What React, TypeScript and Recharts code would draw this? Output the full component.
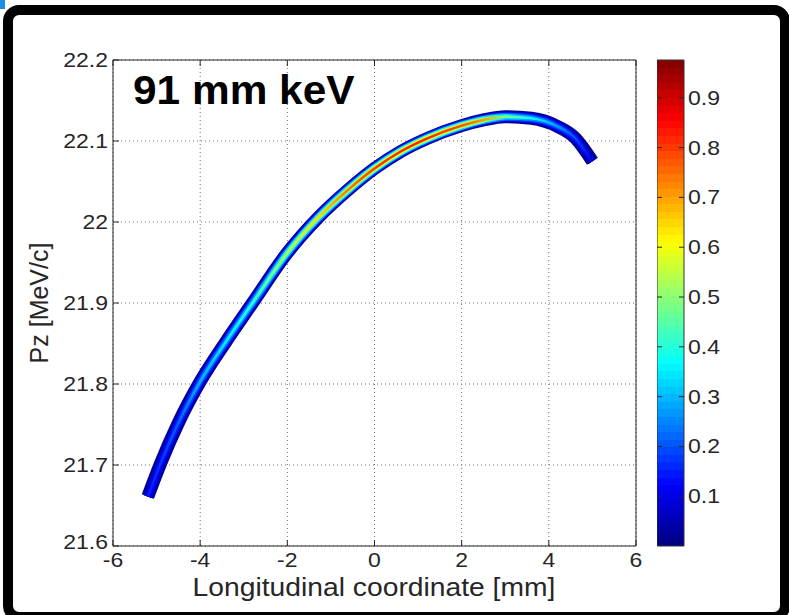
import { ComposedChart, BarChart, Bar, Line, XAxis, YAxis, CartesianGrid } from 'recharts'

// centre of the phase-space trace
const posX = [-5.2, -4.9, -4.5, -4.0, -3.4, -2.8, -2.0, -1.3, -0.6, 0.0, 0.6, 1.2, 2.0, 2.5, 3.0, 3.6, 4.2, 4.6, 5.0]
const pz = [21.661, 21.703, 21.752, 21.803, 21.853, 21.9, 21.962, 22.005, 22.04, 22.066, 22.087, 22.103, 22.119, 22.126, 22.13, 22.128, 22.118, 22.104, 22.075]
// peak density along the trace (colour of the core)
const peak = [0.15, 0.18, 0.22, 0.3, 0.36, 0.42, 0.56, 0.66, 0.76, 0.82, 0.84, 0.84, 0.8, 0.72, 0.5, 0.38, 0.28, 0.2, 0.1]

const xTicks = [-6, -4, -2, 0, 2, 4, 6]
const yTicks = [21.6, 21.7, 21.8, 21.9, 22, 22.1, 22.2]
const cbarTicks = [0.1, 0.2, 0.3, 0.4, 0.5, 0.6, 0.7, 0.8, 0.9]
const cbarMax = 0.976

const data = posX.map((x, i) => ({ x, pz: pz[i] }))
const cbarData = [{ name: 'density', top: cbarMax }]

const FONT = '"Liberation Sans", Arial, Helvetica, sans-serif'
const INK = '#262626'

// outer halo first, hot core last
const layers = [
  { width: 13, scale: 0 },
  { width: 10.5, scale: 0.2 },
  { width: 8, scale: 0.45 },
  { width: 5.5, scale: 0.7 },
  { width: 2.5, scale: 1 },
]

function jet(v: number) {
  const c = (t: number) => Math.round(255 * Math.min(1, Math.max(0, t)))
  const r = c(1.5 - Math.abs(4 * v - 3))
  const g = c(1.5 - Math.abs(4 * v - 2))
  const b = c(1.5 - Math.abs(4 * v - 1))
  return `rgb(${r},${g},${b})`
}

const span = posX[posX.length - 1] - posX[0]

function BottomTick({ x, y, payload }: any) {
  const base = y - 4
  return (
    <g>
      <line x1={x} x2={x} y1={base} y2={base - 6} stroke={INK} />
      <text transform={`translate(${x},${base + 21}) scale(1.15,1)`} textAnchor="middle" fontSize={20} fontFamily={FONT} fill={INK}>
        {payload.value}
      </text>
    </g>
  )
}

function LeftTick({ x, y, payload }: any) {
  const axisX = x + 5
  const lift = payload.value === 21.6 ? -4 : 0
  return (
    <g>
      <line x1={axisX} x2={axisX + 6} y1={y} y2={y} stroke={INK} />
      <text transform={`translate(${x},${y + 7 + lift}) scale(1.15,1)`} textAnchor="end" fontSize={20} fontFamily={FONT} fill={INK}>
        {payload.value}
      </text>
    </g>
  )
}

function TopTick({ x, y }: any) {
  return <line x1={x} x2={x} y1={y} y2={y + 6} stroke={INK} />
}

function RightTick({ x, y }: any) {
  return <line x1={x} x2={x - 6} y1={y} y2={y} stroke={INK} />
}

function CbarTick({ x, y, payload }: any) {
  const right = x - 4
  const left = right - 27
  return (
    <g>
      <line x1={right - 5} x2={right} y1={y} y2={y} stroke={INK} />
      <line x1={left} x2={left + 5} y1={y} y2={y} stroke={INK} />
      <text transform={`translate(${x},${y + 7}) scale(1.15,1)`} textAnchor="start" fontSize={20} fontFamily={FONT} fill={INK}>
        {payload.value}
      </text>
    </g>
  )
}

export default function App() {
  return (
    <div style={{ position: 'absolute', left: 0, top: 0, width: 789, height: 615, background: '#fff', overflow: 'hidden', fontFamily: FONT }}>
      <div style={{ position: 'absolute', left: 0, top: 0, width: 5, height: 9, background: '#1a8fe3' }} />
      <div
        style={{
          position: 'absolute',
          left: 3,
          top: 5,
          width: 787,
          height: 617,
          boxSizing: 'border-box',
          border: '10px solid #000',
          borderRadius: 16,
        }}
      />

      <div style={{ position: 'absolute', left: 0, top: 0 }}>
        <ComposedChart width={789} height={615} data={data} margin={{ top: 59, right: 152, bottom: 39, left: 53 }}>
          <defs>
            {layers.map((l, k) => (
              <linearGradient key={k} id={`band${k}`} x1="0" y1="0" x2="1" y2="0">
                {posX.map((x, i) => (
                  <stop key={i} offset={(x - posX[0]) / span} stopColor={jet(Math.max(0.02, peak[i] * l.scale))} />
                ))}
              </linearGradient>
            ))}
          </defs>
          <CartesianGrid stroke="#6f6f6f" strokeDasharray="1 3" />
          <XAxis
            dataKey="x"
            type="number"
            domain={[-6, 6]}
            ticks={xTicks}
            interval={0}
            height={30}
            tickSize={0}
            tickMargin={4}
            tickLine={false}
            stroke={INK}
            tick={BottomTick}
          />
          <XAxis
            xAxisId="top"
            dataKey="x"
            type="number"
            orientation="top"
            domain={[-6, 6]}
            ticks={xTicks}
            interval={0}
            height={1}
            tickSize={0}
            tickMargin={0}
            tickLine={false}
            stroke={INK}
            tick={TopTick}
          />
          <YAxis
            type="number"
            domain={[21.6, 22.2]}
            ticks={yTicks}
            interval={0}
            width={60}
            tickSize={0}
            tickMargin={5}
            tickLine={false}
            stroke={INK}
            tick={LeftTick}
          />
          <YAxis
            yAxisId="right"
            type="number"
            orientation="right"
            domain={[21.6, 22.2]}
            ticks={yTicks}
            interval={0}
            width={1}
            tickSize={0}
            tickMargin={0}
            tickLine={false}
            stroke={INK}
            tick={RightTick}
          />
          {layers.map((l, k) => (
            <Line
              key={k}
              type="monotone"
              dataKey="pz"
              stroke={`url(#band${k})`}
              strokeWidth={l.width}
              strokeLinejoin="round"
              dot={false}
              activeDot={false}
              isAnimationActive={false}
            />
          ))}
        </ComposedChart>
      </div>

      <div style={{ position: 'absolute', left: 657, top: 0 }}>
        <BarChart width={120} height={615} data={cbarData} barCategoryGap={0} margin={{ top: 60, right: 53, bottom: 69, left: 0 }}>
          <defs>
            <linearGradient id="jetBar" x1="0" y1="1" x2="0" y2="0">
              {Array.from({ length: 64 }, (_, i) => [
                <stop key={`a${i}`} offset={i / 64} stopColor={jet((i + 0.5) / 64)} />,
                <stop key={`b${i}`} offset={(i + 1) / 64} stopColor={jet((i + 0.5) / 64)} />,
              ])}
            </linearGradient>
          </defs>
          <XAxis dataKey="name" type="category" hide />
          <YAxis
            type="number"
            orientation="right"
            domain={[0, cbarMax]}
            ticks={cbarTicks}
            interval={0}
            width={40}
            tickSize={0}
            tickMargin={4}
            tickLine={false}
            axisLine={false}
            tick={CbarTick}
          />
          <Bar dataKey="top" fill="url(#jetBar)" stroke="#333" strokeWidth={1} isAnimationActive={false} />
        </BarChart>
      </div>

      <div
        style={{
          position: 'absolute',
          left: 133,
          top: 70,
          fontSize: 40,
          lineHeight: '40px',
          fontWeight: 'bold',
          color: '#000',
          whiteSpace: 'nowrap',
          transform: 'scaleX(1.06)',
          transformOrigin: 'left center',
        }}
      >
        91 mm keV
      </div>
      <div
        style={{
          position: 'absolute',
          left: 374,
          top: 575,
          fontSize: 25,
          lineHeight: '25px',
          color: INK,
          whiteSpace: 'nowrap',
          transform: 'translateX(-50%) scaleX(1.13)',
        }}
      >
        Longitudinal coordinate [mm]
      </div>
      <div
        style={{
          position: 'absolute',
          left: 39,
          top: 303,
          fontSize: 25,
          lineHeight: '25px',
          color: INK,
          whiteSpace: 'nowrap',
          transform: 'translate(-50%, -50%) rotate(-90deg)',
        }}
      >
        Pz [MeV/c]
      </div>
    </div>
  )
}
